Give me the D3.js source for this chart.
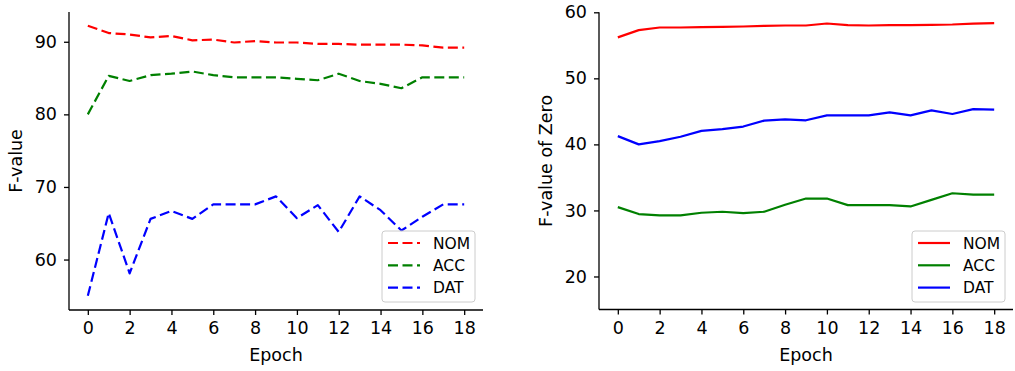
<!DOCTYPE html>
<html>
<head>
<meta charset="utf-8">
<script src="https://cdn.jsdelivr.net/npm/d3@7"></script>
<style>
  html, body { margin: 0; padding: 0; background: #fff; }
  svg { display: block; font-family: "DejaVu Sans", sans-serif; }
</style>
</head>
<body>
<div id="chart"></div>
<script>
const epochs = d3.range(0, 19);
const xTicks = [0, 2, 4, 6, 8, 10, 12, 14, 16, 18];
const seriesNames = ["NOM", "ACC", "DAT"];
const seriesColors = ["#ff0000", "#008000", "#0000ff"];

// left panel: F-value
const leftNOM = [92.2, 91.2, 91.0, 90.6, 90.8, 90.2, 90.3, 89.9, 90.1, 89.9, 89.9, 89.7, 89.7, 89.6, 89.6, 89.6, 89.5, 89.2, 89.2];
const leftACC = [80.0, 85.3, 84.6, 85.4, 85.6, 85.9, 85.4, 85.1, 85.1, 85.1, 84.9, 84.7, 85.6, 84.6, 84.2, 83.6, 85.1, 85.1, 85.1];
const leftDAT = [55.0, 66.4, 58.1, 65.6, 66.7, 65.6, 67.6, 67.6, 67.6, 68.7, 65.7, 67.5, 63.8, 68.7, 66.8, 64.0, 65.9, 67.6, 67.6];
const leftYTicks = [60, 70, 80, 90];

// right panel: F-value of Zero
const rightNOM = [56.2, 57.3, 57.7, 57.7, 57.75, 57.8, 57.85, 57.95, 58.0, 58.0, 58.3, 58.05, 58.0, 58.05, 58.05, 58.1, 58.15, 58.3, 58.35];
const rightACC = [30.5, 29.45, 29.25, 29.25, 29.65, 29.8, 29.6, 29.8, 30.85, 31.8, 31.8, 30.8, 30.8, 30.8, 30.6, 31.6, 32.6, 32.4, 32.4];
const rightDAT = [41.25, 40.0, 40.5, 41.15, 42.05, 42.3, 42.7, 43.6, 43.8, 43.65, 44.4, 44.4, 44.4, 44.85, 44.4, 45.15, 44.6, 45.35, 45.25];
const rightYTicks = [20, 30, 40, 50, 60];

const W = 1015, H = 371;
const FONT = "17.5px";
const DASH = "10,4.5";
const svg = d3.select("#chart").append("svg").attr("width", W).attr("height", H);

function panel(opts) {
  const { left, right, top, bottom, yDomain, yTicks, series, yLabel, yLabelX, dash } = opts;
  const x = d3.scaleLinear().domain([-0.9, 18.9]).range([left, right]);
  const y = d3.scaleLinear().domain(yDomain).range([bottom, top]);

  const g = svg.append("g");

  const line = d3.line().x((d, i) => x(epochs[i])).y(d => y(d));
  series.forEach((vals, k) => {
    g.append("path")
      .datum(vals)
      .attr("d", line)
      .attr("fill", "none")
      .attr("stroke", seriesColors[k])
      .attr("stroke-width", 2.2)
      .attr("stroke-dasharray", dash ? DASH : null)
      .attr("stroke-linejoin", "round");
  });

  const xAxis = g.append("g")
    .attr("transform", `translate(0,${bottom})`)
    .call(d3.axisBottom(x).tickValues(xTicks).tickSize(5).tickPadding(7));
  const yAxis = g.append("g")
    .attr("transform", `translate(${left},0)`)
    .call(d3.axisLeft(y).tickValues(yTicks).tickSize(5).tickPadding(7));
  [xAxis, yAxis].forEach(a => {
    a.select(".domain").attr("stroke", "#000").attr("stroke-width", 1.3);
    a.selectAll(".tick line").attr("stroke", "#000").attr("stroke-width", 1.3);
    a.selectAll(".tick text").attr("fill", "#000").style("font-size", FONT).style("font-family", "DejaVu Sans");
  });
  // matplotlib spines end exactly at the axes box
  xAxis.select(".domain").attr("d", `M${left},0H${right}`);
  yAxis.select(".domain").attr("d", `M0,${bottom}V${top}`);

  g.append("text")
    .attr("x", (left + right) / 2)
    .attr("y", bottom + 51)
    .attr("text-anchor", "middle")
    .style("font-size", FONT)
    .text("Epoch");

  g.append("text")
    .attr("transform", `translate(${yLabelX},${(top + bottom) / 2}) rotate(-90)`)
    .attr("text-anchor", "middle")
    .style("font-size", FONT)
    .text(yLabel);

  // legend
  const lx = right - 101, ly = 231;
  const lg = g.append("g").attr("transform", `translate(${lx},${ly})`);
  lg.append("rect")
    .attr("width", 93).attr("height", 71).attr("rx", 3)
    .attr("fill", "#fff").attr("fill-opacity", 0.8)
    .attr("stroke", "#cccccc").attr("stroke-width", 1);
  seriesNames.forEach((name, k) => {
    const yy = 12 + k * 22.3;
    lg.append("line")
      .attr("x1", 6).attr("x2", 38).attr("y1", yy).attr("y2", yy)
      .attr("stroke", seriesColors[k]).attr("stroke-width", 2.2)
      .attr("stroke-dasharray", dash ? DASH : null);
    lg.append("text")
      .attr("x", 51).attr("y", yy)
      .attr("dy", "0.36em")
      .style("font-size", "15.5px")
      .text(name);
  });
}

panel({
  left: 69, right: 483, top: 12, bottom: 310,
  yDomain: [53.05, 94.1], yTicks: leftYTicks,
  series: [leftNOM, leftACC, leftDAT],
  yLabel: "F-value", yLabelX: 22, dash: true
});

panel({
  left: 599, right: 1013, top: 12.3, bottom: 309.5,
  yDomain: [15, 60], yTicks: rightYTicks,
  series: [rightNOM, rightACC, rightDAT],
  yLabel: "F-value of Zero", yLabelX: 552, dash: false
});
</script>
</body>
</html>
